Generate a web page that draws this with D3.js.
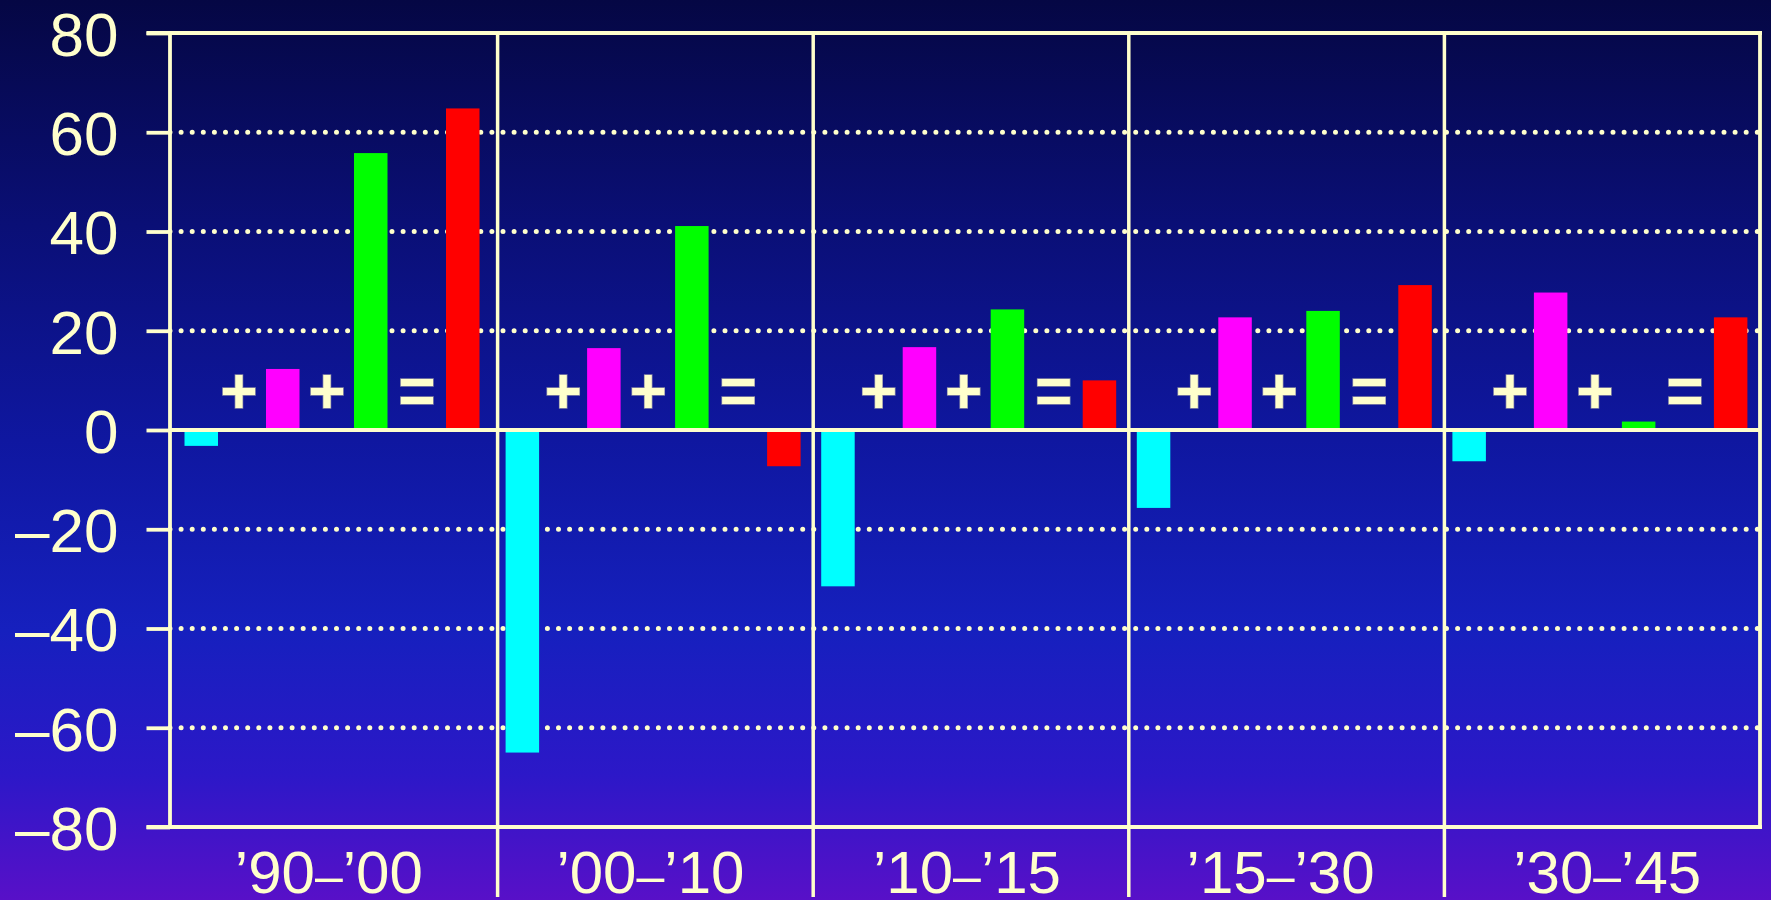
<!DOCTYPE html>
<html>
<head>
<meta charset="utf-8">
<script src="https://cdn.jsdelivr.net/npm/d3@7"></script>
<style>
  html, body { margin: 0; padding: 0; background: #060848; }
  svg { display: block; }
</style>
</head>
<body>
<svg id="chart" width="1771" height="900"></svg>
<script>
// ---------- data ----------
const categories = ["’90–’00", "’00–’10", "’10–’15", "’15–’30", "’30–’45"];
const seriesNames = ["cyan", "magenta", "green", "red"];
const cyanValues    = [-3.2, -65.0, -31.5, -15.7, -6.3];
const magentaValues = [12.3, 16.5, 16.7, 22.7, 27.7];
const greenValues   = [55.8, 41.1, 24.3, 24.0, 1.7];
const redValues     = [64.8, -7.3, 10.0, 29.2, 22.7];
const yTicks = [80, 60, 40, 20, 0, -20, -40, -60, -80];
const yTickLabels = ["80", "60", "40", "20", "0", "–20", "–40", "–60", "–80"];
const gridTicks = [60, 40, 20, -20, -40, -60];
const symbols = ["+", "+", "="];

// ---------- layout ----------
const W = 1771, H = 900;
const axisX = 170, plotRight = 1760, plotTop = 33, plotBottom = 827;
const cream = "#FFFFCC";
const font = "'Liberation Sans', Arial, Helvetica, sans-serif";
const colors = { cyan: "#00FFFF", magenta: "#FF00FF", green: "#00FF00", red: "#FF0000" };
const seriesValues = { cyan: cyanValues, magenta: magentaValues, green: greenValues, red: redValues };

const svg = d3.select("#chart");

// background gradient
const defs = svg.append("defs");
const grad = defs.append("linearGradient").attr("id", "bg")
  .attr("x1", 0).attr("y1", 0).attr("x2", 0).attr("y2", 1);
[[0, "#050744"], [0.25, "#0A0F76"], [0.49, "#0F17A0"], [0.7, "#1620BE"], [0.86, "#2C18C8"], [1, "#5810C8"]]
  .forEach(([o, c]) => grad.append("stop").attr("offset", o).attr("stop-color", c));
svg.append("rect").attr("width", W).attr("height", H).attr("fill", "url(#bg)");

// scales
const x = d3.scaleBand().domain(categories).range([182, plotRight]).paddingInner(0).paddingOuter(0);
const y = d3.scaleLinear().domain([-80, 80]).range([plotBottom, plotTop]);
const barOffset = d3.scaleOrdinal().domain(seriesNames).range([8, 89.5, 177.5, 269.5]);
const barW = 33.5;
const symOffset = [65.5, 150.5, 240.5];
// first group sits a little further left in the original
const groupShift = (c) => categories.indexOf(c) === 0 ? -5.5 : 0;

// dotted gridlines
svg.append("g").selectAll("line").data(gridTicks).join("line")
  .attr("x1", axisX).attr("x2", plotRight)
  .attr("y1", d => y(d)).attr("y2", d => y(d))
  .attr("stroke", cream).attr("stroke-width", 5)
  .attr("stroke-linecap", "round").attr("stroke-dasharray", "0,11.1");

// bars
const barData = [];
categories.forEach((c, i) => seriesNames.forEach(s => barData.push({ c, s, v: seriesValues[s][i] })));
svg.append("g").selectAll("rect").data(barData).join("rect")
  .attr("x", d => x(d.c) + groupShift(d.c) + barOffset(d.s))
  .attr("width", barW)
  .attr("y", d => Math.min(y(d.v), y(0)))
  .attr("height", d => Math.abs(y(d.v) - y(0)))
  .attr("fill", d => colors[d.s]);

// frame lines
const lw = 3.8;
const frame = svg.append("g").attr("stroke", cream).attr("stroke-width", lw).attr("fill", "none");
frame.append("line").attr("x1", 146.5).attr("x2", plotRight + 2).attr("y1", y(80)).attr("y2", y(80));
frame.append("line").attr("x1", 146.5).attr("x2", plotRight + 2).attr("y1", y(-80)).attr("y2", y(-80));
frame.append("line").attr("x1", axisX).attr("x2", plotRight).attr("y1", y(0)).attr("y2", y(0)).attr("stroke-width", 4);
frame.append("line").attr("x1", axisX).attr("x2", axisX).attr("y1", y(80)).attr("y2", y(-80));
frame.append("line").attr("x1", plotRight).attr("x2", plotRight).attr("y1", y(80)).attr("y2", y(-80));
frame.selectAll("line.div").data(categories.slice(1)).join("line").attr("class", "div")
  .attr("x1", d => x(d)).attr("x2", d => x(d)).attr("y1", y(80)).attr("y2", 897)
  .attr("stroke-width", 3.5);

// y axis
const yAxis = svg.append("g").attr("transform", `translate(${axisX},0)`)
  .call(d3.axisLeft(y).tickValues(yTicks).tickSize(23.5).tickPadding(28)
    .tickFormat((d, i) => yTickLabels[i]));
yAxis.select(".domain").remove();
yAxis.selectAll(".tick line").attr("stroke", cream).attr("stroke-width", lw);
yAxis.selectAll(".tick text")
  .attr("fill", cream).attr("font-family", font)
  .attr("font-size", 62).attr("dy", "0.36em");

// x axis
const xLabelShift = [-11, -5, -4, -6, 5];
const xAxis = svg.append("g").attr("transform", `translate(0,${plotBottom})`)
  .call(d3.axisBottom(x).tickSize(0).tickPadding(0));
xAxis.select(".domain").remove();
xAxis.selectAll(".tick text")
  .attr("fill", cream).attr("font-family", font)
  .attr("font-size", 60).attr("y", 66).attr("dy", 0)
  .attr("dx", (d, i) => xLabelShift[i])
  .each(function (d) {
    // narrower dash as in the original typeface
    const t = d3.select(this);
    const parts = d.split("–");
    t.text(null);
    t.append("tspan").text(parts[0]);
    t.append("tspan").attr("font-size", 50).text("–");
    t.append("tspan").text(parts[1]);
  });

// operator symbols
const symData = [];
categories.forEach(c => symbols.forEach((s, j) => symData.push({ c, s, j })));
svg.append("g").selectAll("text").data(symData).join("text")
  .attr("x", d => x(d.c) + groupShift(d.c) + symOffset[d.j] - (d.j === 0 && groupShift(d.c) ? 3 : 0))
  .attr("y", y(0) - 39)
  .attr("dy", "0.35em")
  .attr("text-anchor", "middle")
  .attr("font-family", font)
  .attr("font-weight", "bold").attr("font-size", 64)
  .attr("fill", cream).attr("stroke", "#8a8aa8").attr("stroke-width", 1.5)
  .attr("paint-order", "stroke")
  .text(d => d.s);
</script>
</body>
</html>
